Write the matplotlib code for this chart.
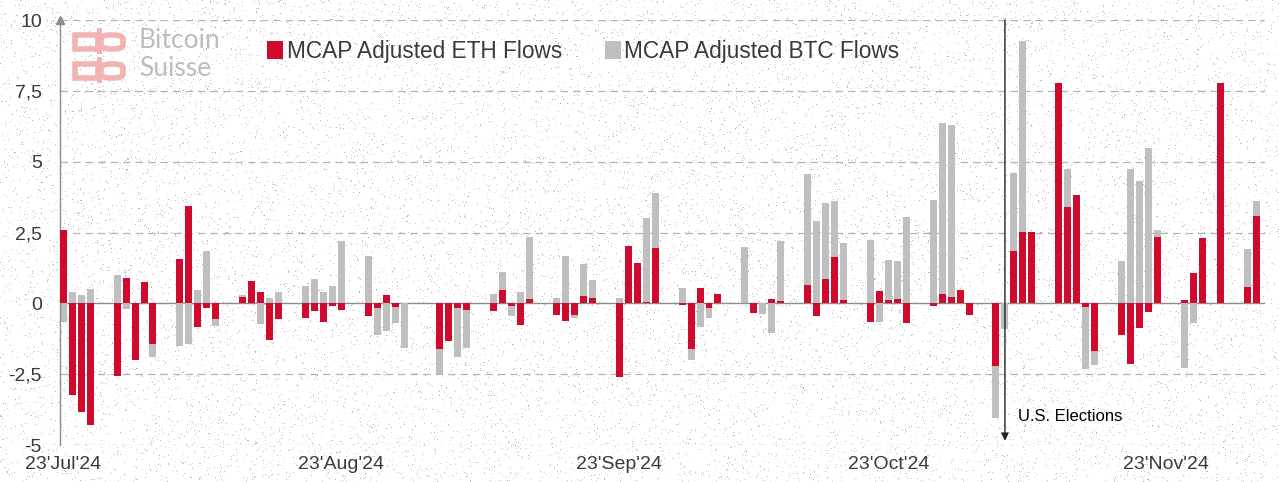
import numpy as np
import pandas as pd
import matplotlib
matplotlib.use("Agg")
import matplotlib.pyplot as plt
import matplotlib.dates as mdates
from matplotlib.patches import Patch, Rectangle, FancyBboxPatch
from matplotlib.ticker import FuncFormatter

plt.rcParams['font.family'] = ['Liberation Sans', 'DejaVu Sans']

# ---------------- data ----------------
start_date = "2024-07-23"
end_date = "2024-12-03"
market_holidays = ["2024-09-02", "2024-11-28"]

eth_flows = [
    2.6, -3.25, -3.85, -4.3,
    -2.55, 0.9, -2.0, 0.75, -1.45,
    1.55, 3.45, -0.85, -0.18, -0.55,
    0.22, 0.8, 0.4, -1.3, -0.55,
    -0.5, -0.27, -0.65, -0.1, -0.24,
    -0.45, -0.18, 0.3, -0.12, 0.0,
    -1.62, -1.32, -0.17, -0.25,
    -0.26, 0.47, -0.1, -0.77, 0.14,
    -0.41, -0.61, -0.41, 0.27, 0.18,
    -2.6, 2.03, 1.43, 0.06, 1.94,
    -0.06, -1.62, 0.53, -0.18, 0.33,
    0.0, -0.33, 0.0, 0.15, 0.08,
    0.65, -0.45, 0.85, 1.62, 0.12,
    -0.67, 0.43, 0.12, 0.14, -0.68,
    -0.1, 0.32, 0.21, 0.47, -0.42,
    -2.2, 0.0, 1.86, 2.51, 2.53,
    7.77, 3.41, 3.82, -0.14, -1.68,
    -1.12, -2.15, -0.86, -0.3, 2.33,
    0.12, 1.06, 2.32, 7.79,
    0.59, 3.09,
]

btc_flows = [
    -0.65, 0.4, 0.3, 0.5,
    1.0, -0.2, -0.3, 0.2, -1.9,
    -1.5, -1.45, 0.47, 1.85, -0.8,
    0.3, 0.3, -0.73, 0.18, 0.39,
    0.6, 0.85, 0.4, 0.6, 2.2,
    1.68, -1.1, -0.97, -0.68, -1.57,
    -2.5, -0.5, -1.88, -1.59,
    0.33, 1.09, -0.45, 0.41, 2.35,
    0.18, 1.68, -0.5, 1.38, 0.82,
    0.2, 1.0, 0.8, 3.0, 3.9,
    0.53, -2.0, -0.82, -0.53, 0.1,
    1.98, -0.1, -0.38, -1.06, 2.21,
    4.56, 2.92, 3.55, 3.61, 2.12,
    2.23, -0.65, 1.52, 1.48, 3.06,
    3.65, 6.37, 6.29, 0.2, -0.1,
    -4.04, -0.92, 4.61, 9.27, 1.0,
    3.0, 4.73, 1.5, -2.3, -2.18,
    1.51, 4.73, 4.32, 5.47, 2.59,
    -2.27, -0.71, 0.5, 1.0,
    1.91, 3.62,
]

tick_dates = ["2024-07-23", "2024-08-23", "2024-09-23", "2024-10-23", "2024-11-23"]
y_ticks = [-5, -2.5, 0, 2.5, 5, 7.5, 10]
event_date = "2024-11-05"
event_label = "U.S. Elections"
series_labels = ["MCAP Adjusted ETH Flows", "MCAP Adjusted BTC Flows"]

# ---------------- style ----------------
RED = "#cf0a2c"
GRAY = "#bfbfbf"
TXT = "#3a3a3a"
W, H = 1279, 482

dates = pd.bdate_range(start_date, end_date)
dates = dates[~dates.isin(pd.to_datetime(market_holidays))]
x = mdates.date2num(dates)

fig = plt.figure(figsize=(W / 100, H / 100), dpi=100)
fig.patch.set_facecolor("white")

# speckled paper background (decoration only)
rng = np.random.default_rng(3)
bg = np.ones((H, W, 3))
mask = rng.random((H, W)) < 0.035
bg[mask] = rng.uniform(0.68, 0.92, mask.sum())[:, None]
fig.figimage(bg, 0, 0, zorder=-5)

ax = fig.add_axes([60 / W, 37 / H, 1205 / W, 425 / H])
ax.set_facecolor("none")

x0 = mdates.date2num(pd.Timestamp(start_date))
ax.set_xlim(x0 - 0.37, x0 + 134.0)
ax.set_ylim(-5, 10)

# grid
for yv in y_ticks:
    if yv == 0:
        ax.axhline(0, color="#8c8c8c", lw=1.0, zorder=1)
    else:
        ax.axhline(yv, color="#b3b3b3", lw=0.9, ls=(0, (6, 4)), zorder=0)

bw = 0.78
ax.bar(x, btc_flows, width=bw, color=GRAY, zorder=2, linewidth=0)
ax.bar(x, eth_flows, width=bw, color=RED, zorder=3, linewidth=0)

# axes styling
for s in ["top", "right", "bottom"]:
    ax.spines[s].set_visible(False)
ax.spines["left"].set_color("#8c8c8c")
ax.spines["left"].set_linewidth(1.0)
ax.plot(0, 1, marker="^", ms=6, color="#8c8c8c", transform=ax.transAxes,
        clip_on=False, zorder=5)

ax.set_yticks(y_ticks)
ax.yaxis.set_major_formatter(FuncFormatter(lambda v, p: f"{v:g}".replace(".", ",")))
ax.set_xticks(mdates.date2num(pd.to_datetime(tick_dates)))
ax.xaxis.set_major_formatter(mdates.DateFormatter("%d'%b'%y"))
ax.tick_params(axis="both", length=0, labelsize=14, colors=TXT)
ax.tick_params(axis="y", pad=13)
ax.tick_params(axis="x", pad=8)

# election marker
xe = mdates.date2num(pd.Timestamp(event_date))
ax.annotate("", xy=(xe, -4.85), xytext=(xe, 10),
            arrowprops=dict(arrowstyle="-|>", color="#222222", lw=1.0,
                            mutation_scale=11, shrinkA=0, shrinkB=0), zorder=6)
ax.text(xe + 1.5, -3.98, event_label, fontsize=12, color="black", va="center", ha="left")

# legend
handles = [Patch(facecolor=RED, edgecolor="none"), Patch(facecolor=GRAY, edgecolor="none")]
leg = ax.legend(handles, series_labels, loc="upper left", bbox_to_anchor=(0.172, 0.953),
                ncol=2, frameon=False, fontsize=16.3, handlelength=0.7, handleheight=0.85,
                handletextpad=0.15, columnspacing=1.9, borderpad=0, borderaxespad=0)
for t in leg.get_texts():
    t.set_color(TXT)

# logo (Bitcoin Suisse)
def fx(px):
    return px / W

def fy(py):
    return 1 - py / H

PINK = "#f2b3b3"
for top in (28, 57):
    fig.add_artist(Rectangle((fx(75), fy(top + 21)), 23 / W, 14 / H, fill=False,
                             ec=PINK, lw=4, transform=fig.transFigure, zorder=10))
    fig.add_artist(FancyBboxPatch((fx(101), fy(top + 21)), 22 / W, 14 / H,
                                  boxstyle="round,pad=0,rounding_size=0.008",
                                  fill=False, ec=PINK, lw=4, transform=fig.transFigure, zorder=10))
    fig.add_artist(Rectangle((fx(97), fy(top + 26)), 5 / W, 26 / H, fc=PINK, ec="none",
                             transform=fig.transFigure, zorder=10))
fig.text(fx(139), fy(41), "Bitcoin", fontsize=19, color="#bdbdbd", va="center", ha="left",
         family=["Lato", "DejaVu Sans"])
fig.text(fx(139), fy(68), "Suisse", fontsize=19, color="#bdbdbd", va="center", ha="left",
         family=["Lato", "DejaVu Sans"])

fig.savefig("out.png", dpi=100)
